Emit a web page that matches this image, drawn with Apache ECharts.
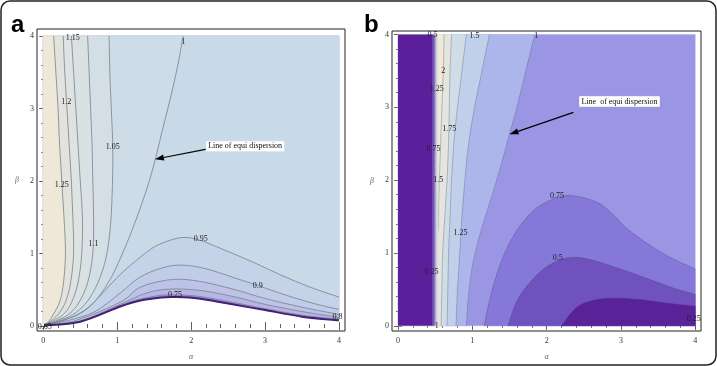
<!DOCTYPE html>
<html><head><meta charset="utf-8">
<script src="https://cdn.jsdelivr.net/npm/echarts@6/dist/echarts.min.js"></script>
<style>html,body{margin:0;padding:0;background:#fff}#c{width:717px;height:366px}</style>
</head><body><div id="c"></div>
<script>
// ---------------- data ----------------
const majorTicks = [0, 1, 2, 3, 4];
const minorTicks = [0.2,0.4,0.6,0.8,1.2,1.4,1.6,1.8,2.2,2.4,2.6,2.8,3.2,3.4,3.6,3.8];

// panel a : contour lines [alpha, beta]
const aC070 = [[0.01,0.01],[0.5,0.06],[1.04,0.27],[1.3,0.35],[1.6,0.395],[1.8,0.40],[2.1,0.38],[2.5,0.31],[3.0,0.22],[3.5,0.13],[4.0,0.08]];
const aC075 = [[0.01,0.01],[0.5,0.065],[1.04,0.285],[1.3,0.37],[1.6,0.425],[1.8,0.43],[2.1,0.41],[2.5,0.34],[3.0,0.24],[3.5,0.15],[4.0,0.095]];
const aC080 = [[0.01,0.01],[0.5,0.07],[1.04,0.30],[1.35,0.44],[1.6,0.50],[1.87,0.51],[2.2,0.48],[2.6,0.40],[3.0,0.30],[3.5,0.20],[4.0,0.12]];
const aC085 = [[0.01,0.01],[0.45,0.08],[1.04,0.33],[1.3,0.53],[1.6,0.62],[1.87,0.645],[2.2,0.60],[2.6,0.50],[3.0,0.38],[3.5,0.26],[4.0,0.16]];
const aC090 = [[0.01,0.01],[0.35,0.08],[0.7,0.2],[1.04,0.455],[1.3,0.67],[1.6,0.80],[1.87,0.84],[2.2,0.79],[2.6,0.66],[2.9,0.56],[3.3,0.42],[3.7,0.30],[4.0,0.23]];
const aC095 = [[0.01,0.01],[0.28,0.08],[0.6,0.25],[1.04,0.71],[1.4,1.02],[1.6,1.14],[1.87,1.22],[2.1,1.19],[2.4,1.07],[2.84,0.88],[3.2,0.71],[3.6,0.54],[4.0,0.40]];
const aC100 = [[0.01,0.01],[0.23,0.07],[0.47,0.16],[0.68,0.32],[0.88,0.6],[1.05,0.95],[1.2,1.32],[1.33,1.68],[1.44,2.02],[1.53,2.36],[1.61,2.7],[1.69,3.02],[1.77,3.36],[1.84,3.7],[1.89,4.0]];
const aC105 = [[0.01,0.01],[0.2,0.07],[0.4,0.16],[0.58,0.32],[0.74,0.6],[0.85,0.95],[0.91,1.4],[0.935,1.95],[0.94,2.45],[0.92,3.0],[0.9,3.5],[0.89,4.0]];
const aC110 = [[0.01,0.01],[0.17,0.07],[0.34,0.16],[0.48,0.32],[0.6,0.6],[0.67,1.0],[0.68,1.5],[0.67,2.0],[0.66,2.5],[0.64,3.0],[0.62,3.5],[0.6,4.0]];
const aC115 = [[0.01,0.01],[0.13,0.07],[0.27,0.16],[0.38,0.32],[0.47,0.6],[0.52,1.0],[0.53,1.5],[0.5,2.0],[0.47,2.5],[0.44,3.0],[0.41,3.5],[0.38,4.0]];
const aC120 = [[0.01,0.01],[0.1,0.07],[0.2,0.16],[0.3,0.33],[0.37,0.6],[0.41,1.0],[0.4,1.5],[0.38,2.0],[0.35,2.5],[0.32,3.0],[0.29,3.5],[0.27,4.0]];
const aC125 = [[0.01,0.01],[0.07,0.06],[0.135,0.16],[0.22,0.33],[0.27,0.57],[0.3,1.0],[0.28,1.5],[0.25,2.0],[0.22,2.5],[0.2,3.0],[0.17,3.5],[0.14,4.0]];
// contour labels of panel a  [alpha, beta, text]
const aLabels = [[0.02,-0.01,'0.65'],[1.78,0.43,'0.75'],[3.98,0.125,'0.8'],[2.9,0.55,'0.9'],[2.13,1.2,'0.95'],[1.895,3.92,'1'],[0.94,2.47,'1.05'],[0.68,1.13,'1.1'],[0.4,3.97,'1.15'],[0.31,3.09,'1.2'],[0.25,1.94,'1.25']];
const aNote = {text:'Line of equi dispersion', at:[2.73,2.48], from:[2.21,2.44], to:[1.51,2.30]};

// panel b : contour lines
const bC025 = [[2.2,0.0],[2.4,0.25],[2.63,0.35],[2.9,0.38],[3.26,0.36],[3.62,0.31],[4.0,0.27]];
const bC050 = [[1.48,0.0],[1.6,0.34],[1.78,0.6],[2.0,0.81],[2.27,0.93],[2.54,0.92],[2.9,0.81],[3.35,0.65],[3.7,0.52],[4.0,0.43]];
const bC075 = [[1.16,0.0],[1.24,0.38],[1.37,0.83],[1.55,1.23],[1.78,1.54],[2.0,1.7],[2.29,1.79],[2.67,1.7],[2.9,1.52],[3.12,1.3],[3.57,0.99],[4.0,0.78]];
const bC100 = [[0.92,0.0],[0.95,0.43],[1.01,0.87],[1.12,1.32],[1.26,1.77],[1.39,2.22],[1.5,2.63],[1.6,3.0],[1.72,3.5],[1.84,4.0]];
const bC125 = [[0.78,0.0],[0.8,0.5],[0.83,1.0],[0.86,1.5],[0.9,2.0],[0.95,2.5],[1.03,3.0],[1.13,3.5],[1.23,4.0]];
const bC150 = [[0.66,0.0],[0.67,0.5],[0.68,1.0],[0.7,1.5],[0.72,2.0],[0.75,2.5],[0.8,3.0],[0.86,3.5],[0.92,4.0]];
const bC175 = [[0.58,0.0],[0.59,0.5],[0.6,1.0],[0.63,1.5],[0.66,2.0],[0.68,2.5],[0.69,3.0],[0.7,3.5],[0.72,4.0]];
const bC200 = [[0.54,1.3],[0.55,1.8],[0.57,2.4],[0.59,3.0],[0.61,3.5],[0.62,4.0]];
const bEdge = [0.46, 0.54];   // dark (undefined) strip and its blurred edge
const bLabels = [[0.465,4.0,'0.5'],[1.03,3.98,'1.5'],[1.86,3.98,'1'],[0.61,3.5,'2'],[0.52,3.25,'1.25'],[0.69,2.7,'1.75'],[0.476,2.43,'0.75'],[0.54,2.0,'1.5'],[0.84,1.28,'1.25'],[0.45,0.745,'0.25'],[0.52,0.0,'1'],[2.14,1.79,'0.75'],[2.15,0.93,'0.5'],[3.98,0.09,'0.25']];
const bNote = {text:'Line  of equi dispersion', at:[2.98,3.08], from:[2.36,2.93], to:[1.50,2.63]};

// ---------------- drawing helpers ----------------
function crPath(P, close) {
  let d = 'M' + P[0][0] + ' ' + P[0][1];
  for (let i = 0; i < P.length - 1; i++) {
    const p0 = P[i - 1] || P[i], p1 = P[i], p2 = P[i + 1], p3 = P[i + 2] || P[i + 1];
    d += ' C' + (p1[0] + (p2[0] - p0[0]) / 6) + ' ' + (p1[1] + (p2[1] - p0[1]) / 6) + ' ' +
         (p2[0] - (p3[0] - p1[0]) / 6) + ' ' + (p2[1] - (p3[1] - p1[1]) / 6) + ' ' + p2[0] + ' ' + p2[1];
  }
  if (close) { close.forEach(q => { d += ' L' + q[0] + ' ' + q[1]; }); d += ' Z'; }
  return d;
}
function region(api, pts, corners, fill) {
  const P = pts.map(p => api.coord(p));
  const C = corners.map(p => api.coord(p));
  return {type: 'path', shape: {pathData: crPath(P, C)}, style: {fill: fill, stroke: fill, lineWidth: 0.3}};
}
function cline(api, pts, color, w) {
  const P = pts.map(p => api.coord(p));
  return {type: 'path', shape: {pathData: crPath(P, null)}, style: {fill: null, stroke: color, lineWidth: w}};
}
const serif = '"Liberation Serif","DejaVu Serif",serif';
function labelEls(api, list) {
  return list.map(l => {
    const p = api.coord([l[0], l[1]]);
    return {type: 'text', x: p[0], y: p[1], style: {text: l[2], fill: '#222', font: '8px ' + serif, align: 'center', verticalAlign: 'middle'}};
  });
}
function noteEls(api, n) {
  const c = api.coord(n.at), s = api.coord(n.from), t = api.coord(n.to);
  const ang = Math.atan2(t[1] - s[1], t[0] - s[0]);
  const L = 9, W = 3;
  const bx = t[0] - L * Math.cos(ang), by = t[1] - L * Math.sin(ang);
  const nx = -Math.sin(ang) * W, ny = Math.cos(ang) * W;
  return [
    {type: 'line', shape: {x1: s[0], y1: s[1], x2: bx, y2: by}, style: {stroke: '#000', lineWidth: 1.2}},
    {type: 'polygon', shape: {points: [[t[0], t[1]], [bx + nx, by + ny], [bx - nx, by - ny]]}, style: {fill: '#000'}},
    {type: 'text', x: c[0], y: c[1], style: {text: n.text, fill: '#111', font: '8px ' + serif, align: 'center', verticalAlign: 'middle',
      backgroundColor: '#fff', borderColor: '#ddd', borderWidth: 0.5, padding: [1, 2]}}
  ];
}
function once(fn) { return function (params, api) { if (params.dataIndex !== 0) return null; return fn(api); }; }

// ---------------- panel renderers ----------------
function drawA(api) {
  const top = [[4, 4], [0, 4], [0, 0.01]];
  const left = [[0, 4], [0, 0.01]];
  const els = [
    region(api, aC070, top, 'rgb(150,136,205)'),
    region(api, aC075, top, 'rgb(182,182,228)'),
    region(api, aC080, top, 'rgb(189,195,231)'),
    region(api, aC085, top, 'rgb(193,204,232)'),
    region(api, aC090, top, 'rgb(196,211,232)'),
    region(api, aC095, top, 'rgb(200,218,232)'),
    region(api, aC100, left, 'rgb(205,220,231)'),
    region(api, aC105, left, 'rgb(211,223,229)'),
    region(api, aC110, left, 'rgb(217,225,227)'),
    region(api, aC115, left, 'rgb(222,227,225)'),
    region(api, aC120, left, 'rgb(227,227,222)'),
    region(api, aC125, left, 'rgb(239,231,215)')
  ];
  [aC075, aC080, aC085, aC090, aC095, aC100, aC105, aC110, aC115, aC120, aC125].forEach(c => els.push(cline(api, c, 'rgb(120,128,140)', 0.8)));
  els.push(cline(api, aC070, 'rgb(70,30,120)', 2));
  return {type: 'group', children: els.concat(labelEls(api, aLabels), noteEls(api, aNote))};
}
function drawB(api) {
  const els = [];
  els.push(region(api, [[0, 0], [4, 0]], [[4, 4], [0, 4]], 'rgb(155,150,228)'));
  els.push(region(api, bC075, [[4, 0]], 'rgb(134,120,216)'));
  els.push(region(api, bC050, [[4, 0]], 'rgb(112,82,190)'));
  els.push(region(api, bC025, [[4, 0]], 'rgb(90,34,152)'));
  els.push(region(api, bC100, [[0, 4], [0, 0]], 'rgb(172,182,234)'));
  els.push(region(api, bC125, [[0, 4], [0, 0]], 'rgb(192,208,234)'));
  els.push(region(api, bC150, [[0, 4], [0, 0]], 'rgb(208,221,231)'));
  els.push(region(api, bC175, [[0, 4], [0, 0]], 'rgb(228,229,222)'));
  els.push(region(api, bC200, [[bEdge[1], 4], [bEdge[1], 1.3]], 'rgb(240,233,214)'));
  [bC025, bC050, bC075, bC100, bC125, bC150, bC175, bC200].forEach(c => els.push(cline(api, c, 'rgba(70,70,110,0.55)', 0.6)));
  // dark strip and blurred edge
  const p00 = api.coord([0, 0]), p1 = api.coord([bEdge[0], 4]), p2 = api.coord([bEdge[1], 0]);
  els.push({type: 'rect', shape: {x: p00[0], y: p1[1], width: p1[0] - p00[0], height: p00[1] - p1[1]}, style: {fill: 'rgb(91,31,156)'}});
  els.push({type: 'rect', shape: {x: p1[0], y: p1[1], width: p2[0] - p1[0], height: p00[1] - p1[1]},
    style: {fill: new echarts.graphic.LinearGradient(0, 0, 1, 0, [
      {offset: 0, color: 'rgb(91,31,156)'}, {offset: 0.35, color: 'rgb(130,110,190)'},
      {offset: 0.7, color: 'rgb(200,206,226)'}, {offset: 1, color: 'rgb(236,232,220)'}])}});
  return {type: 'group', children: els.concat(labelEls(api, bLabels), noteEls(api, bNote))};
}

// ---------------- axes ----------------
const tickColor = '#333';
function xAxes(grid, min, max) {
  const base = {type: 'value', gridIndex: grid, min: min, max: max, splitLine: {show: false}, axisLine: {show: false}};
  return [
    Object.assign({}, base, {position: 'bottom', name: 'α', nameLocation: 'middle', nameGap: 22,
      nameTextStyle: {fontFamily: serif, fontStyle: 'italic', fontSize: 8, color: '#666'},
      axisTick: {inside: true, length: 4, customValues: majorTicks, lineStyle: {color: tickColor, width: 0.8}},
      axisLabel: {customValues: majorTicks, fontFamily: serif, fontSize: 8, color: '#333', margin: 6}}),
    Object.assign({}, base, {position: 'bottom', axisTick: {inside: true, length: 2, customValues: minorTicks, lineStyle: {color: tickColor, width: 0.8}}, axisLabel: {show: false}}),
    Object.assign({}, base, {position: 'top', axisTick: {inside: true, length: 4, customValues: majorTicks, lineStyle: {color: tickColor, width: 0.8}}, axisLabel: {show: false}}),
    Object.assign({}, base, {position: 'top', axisTick: {inside: true, length: 2, customValues: minorTicks, lineStyle: {color: tickColor, width: 0.8}}, axisLabel: {show: false}})
  ];
}
function yAxes(grid, min, max) {
  const base = {type: 'value', gridIndex: grid, min: min, max: max, splitLine: {show: false}, axisLine: {show: false}};
  return [
    Object.assign({}, base, {position: 'left', name: 'β', nameLocation: 'middle', nameGap: 18, nameRotate: 0,
      nameTextStyle: {fontFamily: serif, fontStyle: 'italic', fontSize: 8, color: '#666'},
      axisTick: {inside: true, length: 4, customValues: majorTicks, lineStyle: {color: tickColor, width: 0.8}},
      axisLabel: {customValues: majorTicks, fontFamily: serif, fontSize: 8, color: '#333', margin: 3}}),
    Object.assign({}, base, {position: 'left', axisTick: {inside: true, length: 2, customValues: minorTicks, lineStyle: {color: tickColor, width: 0.8}}, axisLabel: {show: false}}),
    Object.assign({}, base, {position: 'right', axisTick: {inside: true, length: 4, customValues: majorTicks, lineStyle: {color: tickColor, width: 0.8}}, axisLabel: {show: false}}),
    Object.assign({}, base, {position: 'right', axisTick: {inside: true, length: 2, customValues: minorTicks, lineStyle: {color: tickColor, width: 0.8}}, axisLabel: {show: false}})
  ];
}

const chart = echarts.init(document.getElementById('c'));
chart.setOption({
  animation: false,
  backgroundColor: '#fff',
  grid: [
    {left: 37, top: 29, width: 308, height: 308, show: true, borderColor: '#222', borderWidth: 1, backgroundColor: 'transparent'},
    {left: 392, top: 31, width: 309, height: 306, show: true, borderColor: '#222', borderWidth: 1, backgroundColor: 'transparent'}
  ],
  xAxis: xAxes(0, -0.085, 4.081).concat(xAxes(1, -0.081, 4.077)),
  yAxis: yAxes(0, -0.068, 4.095).concat(yAxes(1, -0.071, 4.047)),
  series: [
    {type: 'custom', xAxisIndex: 0, yAxisIndex: 0, data: [[0, 0]], renderItem: once(drawA), silent: true, z: 1},
    {type: 'custom', xAxisIndex: 4, yAxisIndex: 4, data: [[0, 0]], renderItem: once(drawB), silent: true, z: 1}
  ],
  graphic: [
    {type: 'rect', shape: {x: 1, y: 1, width: 715, height: 364, r: 9}, style: {fill: 'none', stroke: '#222', lineWidth: 1.5}, z: 10},
    {type: 'text', x: 11, y: 25, style: {text: 'a', font: 'bold 24px "Liberation Sans", Arial, sans-serif', fill: '#000', verticalAlign: 'middle'}, z: 10},
    {type: 'text', x: 364, y: 25, style: {text: 'b', font: 'bold 24px "Liberation Sans", Arial, sans-serif', fill: '#000', verticalAlign: 'middle'}, z: 10}
  ]
});
</script>
</body></html>
